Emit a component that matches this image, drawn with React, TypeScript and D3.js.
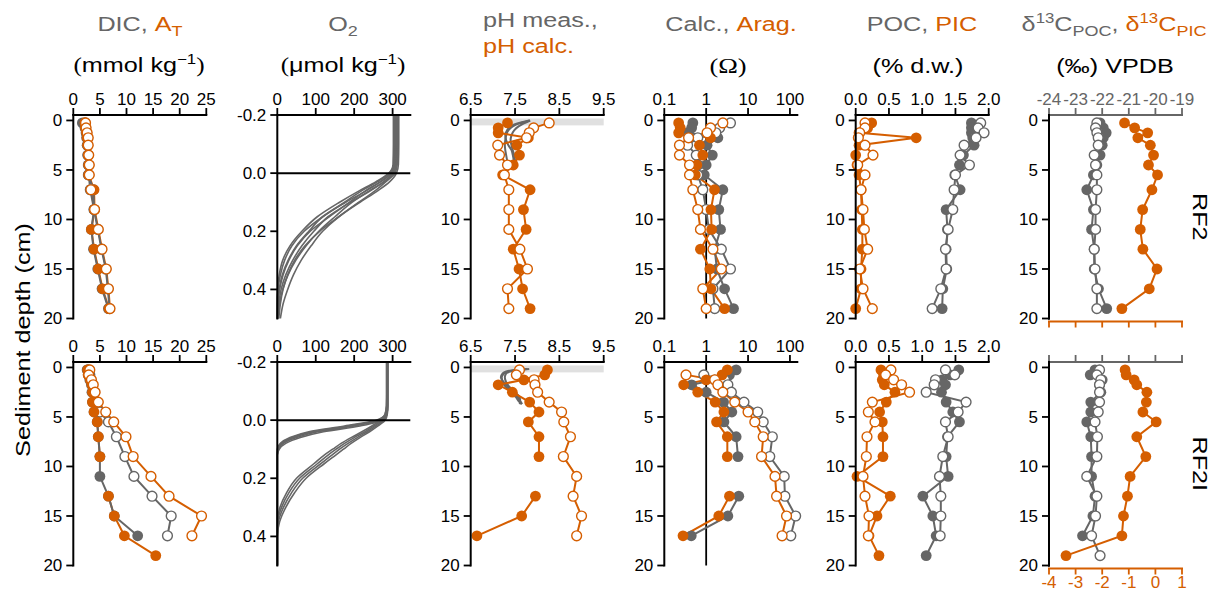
import React from 'react';
import * as d3 from 'd3';

// slice mid-depths (cm) shared by all discrete profiles
const depths = [0.25, 0.75, 1.25, 1.75, 2.5, 3.5, 4.5, 5.5, 7, 9, 11, 13, 15, 17, 19];

// ---------------- RF2 ----------------
const rf2DicFilled = [1.7, 2.2, 2.4, 2.5, 2.6, 2.7, 2.8, 2.8, 3.8, 3.9, 3.4, 3.8, 4.6, 5.4, 6.6];
const rf2DicOpen = [2.2, 2.3, 2.5, 2.7, 2.7, 2.8, 2.9, 2.9, 3.2, 3.9, 4.6, 5.3, 6.1, 6.5, 6.8];
const rf2AtFilled = [2.2, 2.3, 2.5, 2.6, 2.7, 2.8, 2.9, 2.9, 3.9, 4.0, 3.4, 3.9, 4.7, 5.5, 6.7];
const rf2AtOpen = [2.3, 2.4, 2.6, 2.8, 2.8, 2.9, 3.0, 3.0, 3.3, 4.0, 4.7, 5.4, 6.2, 6.6, 6.9];

const o2DepthRF2 = [-0.2, -0.1, -0.03, 0, 0.03, 0.06, 0.1, 0.15, 0.2, 0.25, 0.3, 0.35, 0.4, 0.45, 0.5];
const rf2O2Profiles = [
  [316, 316, 315, 310, 292, 262, 215, 160, 118, 88, 62, 42, 27, 15, 8],
  [313, 313, 312, 306, 282, 255, 212, 160, 110, 72, 45, 27, 15, 8, 4],
  [311, 311, 310, 303, 278, 240, 195, 150, 108, 75, 48, 28, 14, 6, 2],
  [309, 309, 308, 300, 276, 243, 190, 132, 95, 64, 40, 22, 10, 4, 1],
  [307, 307, 306, 297, 268, 230, 188, 135, 85, 52, 30, 15, 6, 2, 0],
  [306, 306, 304, 295, 268, 232, 178, 118, 82, 50, 28, 13, 5, 1, 0],
  [304, 304, 303, 292, 260, 220, 175, 118, 70, 38, 19, 8, 2, 0, 0],
  [302, 302, 301, 290, 256, 214, 162, 104, 64, 33, 14, 5, 1, 0, 0],
];

const rf2PhCalcFilled = [7.33, 7.12, 7.12, 7.8, 7.54, 7.6, 7.46, 7.22, 7.84, 7.69, 7.75, 7.46, 7.59, 7.67, 7.84];
const rf2PhCalcOpen = [8.27, 7.92, 7.82, 7.76, 7.11, 7.15, 7.33, 7.26, 7.36, 7.36, 7.36, 7.61, 7.78, 7.33, 7.36];
const phDepthRF2 = [0, 0.3, 0.6, 1, 1.5, 2, 2.5, 3, 3.5, 4];
const rf2PhMeasProfiles = [
  [7.84, 7.6, 7.45, 7.35, 7.3, 7.28, 7.27, 7.28, 7.3, 7.32],
  [7.84, 7.7, 7.58, 7.48, 7.42, 7.4, 7.42, 7.45, 7.48, 7.5],
  [7.82, 7.55, 7.4, 7.32, 7.28, 7.3, 7.35, 7.42, 7.45, 7.47],
];

const rf2CalcFilled = [0.48, 0.45, 0.36, 1.9, 1.05, 1.4, 1.0, 0.9, 2.5, 2.0, 2.2, 1.6, 1.8, 2.75, 4.5];
const rf2CalcOpen = [3.8, 2.1, 1.7, 0.63, 0.36, 0.58, 0.63, 0.63, 0.83, 1.0, 1.16, 2.3, 3.8, 1.45, 1.6];
const rf2AragFilled = [0.22, 0.24, 0.22, 1.27, 0.69, 0.83, 0.6, 0.55, 1.58, 1.3, 1.35, 0.73, 1.22, 1.3, 2.75];
const rf2AragOpen = [2.5, 1.27, 1.05, 0.38, 0.23, 0.23, 0.4, 0.4, 0.48, 0.63, 0.73, 1.45, 2.3, 0.83, 1.0];

const rf2PocFilled = [1.74, 1.74, 1.74, 1.76, 1.78, 1.62, 1.56, 1.49, 1.57, 1.36, 1.38, 1.36, 1.37, 1.31, 1.3];
const rf2PocOpen = [1.88, 1.84, 1.93, 1.81, 1.63, 1.57, 1.71, 1.5, 1.48, 1.46, 1.39, 1.35, 1.36, 1.28, 1.15];
const rf2PicFilled = [0.24, 0.18, 0.05, 0.91, 0.05, 0.0, 0.02, 0.05, 0.08, 0.09, 0.1, 0.1, 0.08, 0.08, 0.0];
const rf2PicOpen = [0.14, 0.14, 0.06, 0.04, 0.14, 0.26, 0.03, 0.14, 0.08, 0.11, 0.13, 0.18, 0.06, 0.11, 0.25];

const rf2D13cPocFilled = [-22.08, -21.96, -21.85, -21.96, -22.0, -22.08, -22.2, -22.33, -22.58, -22.33, -22.4, -22.3, -22.3, -22.14, -21.83];
const rf2D13cPocOpen = [-22.2, -22.25, -22.2, -22.15, -22.15, -22.3, -22.25, -22.2, -22.2, -22.25, -22.25, -22.3, -22.27, -22.2, -22.2];
const rf2D13cPicFilled = [-1.16, -0.78, -0.29, -0.66, -0.19, -0.07, -0.26, 0.08, -0.13, -0.48, -0.57, -0.47, 0.06, -0.23, -1.26];

// ---------------- RF2I ----------------
const rf2iDicFilled = [2.6, 2.8, 3.1, 3.4, 3.5, 3.6, 3.9, 4.5, 4.7, 5.0, 5.0, 6.6, 7.7, 12.1, null];
const rf2iDicOpen = [2.8, 3.1, 3.3, 3.6, 4.0, 4.4, 5.0, 6.6, 8.1, 9.7, 11.4, 14.8, 18.4, 17.7, null];
const rf2iAtFilled = [2.7, 2.8, 3.2, 3.5, 3.6, 3.6, 3.9, 4.5, 4.7, 5.0, null, 6.6, 7.7, 9.6, 15.5];
const rf2iAtOpen = [3.1, 2.9, 3.4, 3.75, 4.1, 4.7, 6.1, 7.6, 9.9, 11.25, 14.6, 18.0, 24.1, 22.3, null];

const o2DepthRF2I = [-0.2, -0.1, -0.05, -0.02, 0, 0.02, 0.04, 0.06, 0.08, 0.1, 0.12, 0.15, 0.2, 0.25, 0.3, 0.35, 0.4, 0.45, 0.5];
const rf2iO2Profiles = [
  [287, 287, 287, 285, 275, 215, 120, 60, 22, 5, 0, 0, 0, 0, 0, 0, 0, 0, 0],
  [286, 286, 286, 283, 270, 200, 105, 50, 16, 3, 0, 0, 0, 0, 0, 0, 0, 0, 0],
  [285, 285, 285, 282, 265, 190, 95, 42, 12, 2, 0, 0, 0, 0, 0, 0, 0, 0, 0],
  [284, 284, 284, 280, 262, 185, 90, 38, 10, 1, 0, 0, 0, 0, 0, 0, 0, 0, 0],
  [285, 285, 284, 281, 258, 175, 82, 33, 8, 0, 0, 0, 0, 0, 0, 0, 0, 0, 0],
  [288, 288, 288, 286, 281, 262, 240, 215, 192, 172, 152, 122, 75, 45, 22, 6, 0, 0, 0],
  [287, 287, 287, 285, 277, 257, 234, 208, 184, 162, 142, 113, 66, 37, 16, 3, 0, 0, 0],
  [286, 286, 286, 284, 273, 252, 228, 200, 175, 153, 132, 104, 58, 30, 11, 1, 0, 0, 0],
  [285, 285, 285, 283, 269, 246, 220, 192, 166, 144, 122, 95, 50, 24, 7, 0, 0, 0, 0],
];

const rf2iPhCalcFilled = [8.23, 8.17, 7.7, 7.12, 7.44, 7.83, 8.04, 7.8, 8.04, 8.04, null, 7.96, 7.65, 6.64, null];
const rf2iPhCalcOpen = [7.6, 7.53, 7.93, 7.95, 8.01, 8.27, 8.55, 8.6, 8.75, 8.59, 8.89, 8.81, 9.0, 8.89, null];
const phDepthRF2I = [0.15, 0.25, 0.4, 0.6, 1.0, 1.5, 2.0, 2.5, 3.0, 3.5, 3.7];
const rf2iPhMeasProfiles = [
  [7.82, 7.6, 7.35, 7.25, 7.2, 7.22, 7.3, 7.42, 7.52, 7.6, 7.65],
  [7.78, 7.5, 7.3, 7.22, 7.18, 7.25, 7.35, 7.47, 7.56, 7.63, 7.66],
  [7.75, 7.55, 7.4, 7.3, 7.27, 7.3, 7.38, 7.5, 7.6, 7.62, 7.6],
];

const rf2iCalcFilled = [5.2, 3.6, 1.6, 0.45, 1.0, 2.6, 4.1, 2.65, 5.2, 5.75, null, 6.0, 3.3, 0.44, null];
const rf2iCalcOpen = [null, 0.88, 2.75, 3.3, 4.0, 8.0, 17, 23, 38, 33, 73, 76, 137, 105, null];
const rf2iAragFilled = [3.2, 2.4, 1.0, 0.29, 0.63, 1.64, 2.65, 1.77, 3.2, 3.2, null, 3.6, 2.0, 0.28, null];
const rf2iAragOpen = [null, 0.33, 1.6, 1.9, 2.5, 4.8, 10, 14.5, 23, 21, 44, 48, 83, 65, null];

const rf2iPocFilled = [1.55, 1.42, 1.3, 1.35, 1.29, 1.36, 1.46, 1.56, 1.38, 1.36, 1.39, 1.01, 1.16, 1.21, 1.06];
const rf2iPocOpen = [1.35, 1.49, 1.2, 1.18, 1.06, 1.66, 1.54, 1.35, 1.39, 1.31, 1.26, 1.28, 1.28, 1.27, null];
const rf2iPicFilled = [0.38, 0.42, 0.4, 0.43, 0.59, 0.46, 0.36, 0.4, 0.41, 0.41, 0.02, 0.52, 0.32, 0.2, 0.35];
const rf2iPicOpen = [0.53, 0.45, 0.57, 0.69, 0.81, 0.25, 0.19, 0.29, 0.17, 0.16, 0.11, 0.14, 0.2, 0.19, null];

const rf2iD13cPocFilled = [-22.27, -22.45, -22.0, -22.1, -22.05, -22.43, -22.43, -22.58, -22.43, -22.4, -22.4, -22.27, -22.35, -22.74, null];
const rf2iD13cPocOpen = [-22.1, -22.2, -22.05, -22.1, -22.1, -22.1, -22.15, -22.27, -22.18, -22.2, -22.58, -22.2, -22.25, -22.4, -22.08];
const rf2iD13cPicFilled = [-1.14, -1.1, -0.8, -0.7, -0.32, -0.34, -0.47, 0.03, -0.7, -0.36, -0.95, -1.05, -1.2, -1.26, -3.36];

// axis ticks
const dicTicks = [0, 5, 10, 15, 20, 25];
const o2Ticks = [0, 100, 200, 300];
const phTicks = [6.5, 7.5, 8.5, 9.5];
const omegaTicks = [0.1, 1, 10, 100];
const pocTicks = [0, 0.5, 1, 1.5, 2];
const d13cPocTicks = [-24, -23, -22, -21, -20, -19];
const d13cPicTicks = [-4, -3, -2, -1, 0, 1];
const depthTicks = [0, 5, 10, 15, 20];
const o2DepthTicks = [-0.2, 0, 0.2, 0.4];
const rowNames = ['RF2', 'RF2I'];

const GREY = '#666666';
const ORANGE = '#D55E00';
const SANS = '"Liberation Sans", Arial, Helvetica, sans-serif';
const SERIF = '"Liberation Serif", "Times New Roman", serif';
const STRETCH = 1.2;

const PW = 133;
const colLeft = [73.3, 277.3, 470.7, 664.3, 855.7, 1049];
const rowTop = [115, 362];
const rowBottom = [318.5, 565.5];

type Vals = (number | null)[];
type Series = { vals: Vals; color: string; open: boolean };
type Pt = { d: number; v: number | null };

const toPts = (vals: Vals, ds: number[] = depths): Pt[] => ds.map((d, i) => ({ d, v: vals[i] == null ? null : (vals[i] as number) }));

interface PanelProps {
  row: number;
  col: number;
  x: any;
  y: d3.ScaleLinear<number, number>;
  xTicks: number[];
  xFmt: (v: number) => string;
  yTicks: number[];
  yFmt: (v: number) => string;
  yEnd: number;
  series?: Series[];
  profiles?: { depth: number[]; vals: number[][]; width: number };
  band?: [number, number];
  hLine?: number;
  vLine?: number;
  topColor?: string;
  topLabels?: boolean;
  bottom?: { x: any; ticks: number[]; labels: boolean };
}

const Panel = (p: PanelProps) => {
  const left = colLeft[p.col];
  const top = rowTop[p.row];
  const bot = rowBottom[p.row];
  const right = left + PW;
  const topColor = p.topColor || 'black';
  const series = p.series || [];

  const line = d3.line<Pt>()
    .defined(d => d.v != null)
    .x(d => p.x(d.v as number))
    .y(d => p.y(d.d));

  const profLine = d3.line<[number, number]>()
    .x(d => p.x(d[1]))
    .y(d => p.y(d[0]))
    .curve(d3.curveMonotoneY);

  return (
    <g>
      {p.band && (
        <rect x={left} width={PW} y={p.y(p.band[0])} height={p.y(p.band[1]) - p.y(p.band[0])} fill="#e0e0e0" />
      )}
      {p.profiles && p.profiles.vals.map((vals, i) => (
        <path key={'pr' + i}
          d={profLine(p.profiles!.depth.map((d, j) => [d, vals[j]] as [number, number])) || ''}
          fill="none" stroke={GREY} strokeWidth={p.profiles!.width} />
      ))}
      {p.hLine != null && (
        <line x1={left} x2={right} y1={p.y(p.hLine)} y2={p.y(p.hLine)} stroke="black" strokeWidth={2} />
      )}
      {p.vLine != null && (
        <line x1={p.x(p.vLine)} x2={p.x(p.vLine)} y1={top} y2={p.y(p.yEnd)} stroke="black" strokeWidth={1.8} />
      )}
      {series.slice().reverse().map((s, i) => (
        <path key={'l' + i} d={line(toPts(s.vals)) || ''} fill="none" stroke={s.color} strokeWidth={2} />
      ))}
      {series.map((s, i) => toPts(s.vals).filter(d => d.v != null).map((d, j) => (
        <circle key={'c' + i + '-' + j} cx={p.x(d.v as number)} cy={p.y(d.d)}
          r={s.open ? 4.9 : 5.4}
          fill={s.open ? 'white' : s.color}
          stroke={s.open ? s.color : 'none'} strokeWidth={1.4} />
      )))}

      {/* top axis */}
      <line x1={left} x2={right} y1={top} y2={top} stroke={topColor} strokeWidth={2} strokeLinecap="square" />
      {p.xTicks.map(t => (
        <g key={'xt' + t}>
          <line x1={p.x(t)} x2={p.x(t)} y1={top} y2={top - 7} stroke={topColor} strokeWidth={1.8} />
          {p.topLabels !== false && (
            <text x={p.x(t)} y={top - 10} textAnchor="middle" fontSize={17} fontFamily={SANS}
              fill={p.topColor || 'black'}>{p.xFmt(t)}</text>
          )}
        </g>
      ))}

      {/* left axis */}
      <line x1={left} x2={left} y1={top} y2={p.y(p.yEnd)} stroke="black" strokeWidth={2} strokeLinecap="square" />
      {p.yTicks.map(t => (
        <g key={'yt' + t}>
          <line x1={left} x2={left - 7} y1={p.y(t)} y2={p.y(t)} stroke="black" strokeWidth={1.8} />
          <text x={left - 11} y={p.y(t)} dy="0.35em" textAnchor="end" fontSize={17} fontFamily={SANS}>{p.yFmt(t)}</text>
        </g>
      ))}

      {p.bottom && (
        <g>
          <line x1={left} x2={right} y1={bot + 3} y2={bot + 3} stroke={ORANGE} strokeWidth={2} strokeLinecap="square" />
          {p.bottom.ticks.map(t => (
            <g key={'bt' + t}>
              <line x1={p.bottom!.x(t)} x2={p.bottom!.x(t)} y1={bot + 3} y2={bot + 9} stroke={ORANGE} strokeWidth={1.8} />
              {p.bottom!.labels && (
                <text x={p.bottom!.x(t)} y={bot + 22} textAnchor="middle" fontSize={17} fontFamily={SANS}
                  fill={ORANGE}>{String(t)}</text>
              )}
            </g>
          ))}
        </g>
      )}
    </g>
  );
};

const Title = ({ x, y, anchor, children }: { x: number; y: number; anchor?: string; children: any }) => (
  <g transform={`translate(${x},${y}) scale(${STRETCH},1)`}>
    <text textAnchor={anchor || 'middle'} fontSize={21} fontFamily={SANS}>{children}</text>
  </g>
);

const App = () => {
  const fmtInt = (v: number) => String(v);
  const fmt1 = (v: number) => v.toFixed(1);

  const rows = [0, 1].map(r => {
    const y = d3.scaleLinear().domain([-0.55, 20]).range([rowTop[r], rowBottom[r]]);
    const yO2 = d3.scaleLinear().domain([-0.2, 0.5]).range([rowTop[r], rowBottom[r]]);
    const xs = colLeft.map(l => [l, l + PW]);
    const xDic = d3.scaleLinear().domain([0, 25]).range(xs[0]);
    const xO2 = d3.scaleLinear().domain([0, 346]).range(xs[1]);
    const xPh = d3.scaleLinear().domain([6.5, 9.5]).range(xs[2]);
    const xOm = d3.scaleLog().domain([0.1, 150]).range(xs[3]);
    const xPoc = d3.scaleLinear().domain([0, 2]).range(xs[4]);
    const xD13Poc = d3.scaleLinear().domain([-24, -19]).range(xs[5]);
    const xD13Pic = d3.scaleLinear().domain([-4, 1]).range(xs[5]);
    const R = r === 0;

    const dic: Series[] = [
      { vals: R ? rf2DicFilled : rf2iDicFilled, color: GREY, open: false },
      { vals: R ? rf2DicOpen : rf2iDicOpen, color: GREY, open: true },
      { vals: R ? rf2AtFilled : rf2iAtFilled, color: ORANGE, open: false },
      { vals: R ? rf2AtOpen : rf2iAtOpen, color: ORANGE, open: true },
    ];
    const ph: Series[] = [
      { vals: R ? rf2PhCalcFilled : rf2iPhCalcFilled, color: ORANGE, open: false },
      { vals: R ? rf2PhCalcOpen : rf2iPhCalcOpen, color: ORANGE, open: true },
    ];
    const om: Series[] = [
      { vals: R ? rf2CalcFilled : rf2iCalcFilled, color: GREY, open: false },
      { vals: R ? rf2CalcOpen : rf2iCalcOpen, color: GREY, open: true },
      { vals: R ? rf2AragFilled : rf2iAragFilled, color: ORANGE, open: false },
      { vals: R ? rf2AragOpen : rf2iAragOpen, color: ORANGE, open: true },
    ];
    const poc: Series[] = [
      { vals: R ? rf2PocFilled : rf2iPocFilled, color: GREY, open: false },
      { vals: R ? rf2PocOpen : rf2iPocOpen, color: GREY, open: true },
      { vals: R ? rf2PicFilled : rf2iPicFilled, color: ORANGE, open: false },
      { vals: R ? rf2PicOpen : rf2iPicOpen, color: ORANGE, open: true },
    ];
    const d13Poc: Series[] = [
      { vals: R ? rf2D13cPocFilled : rf2iD13cPocFilled, color: GREY, open: false },
      { vals: R ? rf2D13cPocOpen : rf2iD13cPocOpen, color: GREY, open: true },
    ];
    const d13Pic: Series[] = [
      { vals: R ? rf2D13cPicFilled : rf2iD13cPicFilled, color: ORANGE, open: false },
    ];

    const common = { row: r, y, yTicks: depthTicks, yFmt: fmtInt, yEnd: 20 };
    return (
      <g key={'row' + r}>
        <Panel {...common} col={0} x={xDic} xTicks={dicTicks} xFmt={fmtInt} series={dic} />
        <Panel row={r} col={1} y={yO2} x={xO2} xTicks={o2Ticks} xFmt={fmtInt}
          yTicks={o2DepthTicks} yFmt={fmt1} yEnd={0.5} hLine={0}
          profiles={{ depth: R ? o2DepthRF2 : o2DepthRF2I, vals: R ? rf2O2Profiles : rf2iO2Profiles, width: 1.6 }} />
        <Panel {...common} col={2} x={xPh} xTicks={phTicks} xFmt={fmt1} series={ph} band={[-0.2, 0.5]}
          profiles={{ depth: R ? phDepthRF2 : phDepthRF2I, vals: R ? rf2PhMeasProfiles : rf2iPhMeasProfiles, width: 2 }} />
        <Panel {...common} col={3} x={xOm} xTicks={omegaTicks} xFmt={(v: number) => String(v)} series={om} vLine={1} />
        <Panel {...common} col={4} x={xPoc} xTicks={pocTicks} xFmt={fmt1} series={poc} />
        {/* δ13C: POC on the grey top axis, PIC on the orange bottom axis */}
        <Panel {...common} col={5} x={xD13Poc} xTicks={d13cPocTicks} xFmt={fmtInt} series={d13Poc}
          topColor={GREY} topLabels={R}
          bottom={{ x: xD13Pic, ticks: d13cPicTicks, labels: !R }} />
        <Panel {...common} col={5} x={xD13Pic} xTicks={[]} xFmt={fmtInt} yTicks={[]} series={d13Pic} topColor="none" />
        <g transform={`translate(1193,${(rowTop[r] + rowBottom[r]) / 2}) rotate(90) scale(${STRETCH},1)`}>
          <text textAnchor="middle" fontSize={21} fontFamily={SANS}>{rowNames[r]}</text>
        </g>
      </g>
    );
  });

  const sub = (t: string, c: string) => [
    <tspan key={t + 'a'} fill={c} fontSize={15} dy={5}>{t}</tspan>,
  ];

  return (
    <svg width={1220} height={594} style={{ position: 'absolute', left: 0, top: 0, background: 'white' }}>
      <rect width={1220} height={594} fill="white" />
      {rows}

      {/* column titles */}
      <Title x={140} y={31}>
        <tspan fill={GREY}>{'DIC, '}</tspan>
        <tspan fill={ORANGE}>A</tspan>
        {sub('T', ORANGE)}
      </Title>
      <Title x={139} y={72}>
        <tspan fontFamily={SERIF}>(</tspan>
        <tspan>mmol kg</tspan>
        <tspan fontSize={14} dy={-8}>−1</tspan>
        <tspan fontFamily={SERIF} dy={8}>)</tspan>
      </Title>

      <Title x={343} y={31}>
        <tspan fill={GREY}>O</tspan>
        {sub('2', GREY)}
      </Title>
      <Title x={343} y={72}>
        <tspan fontFamily={SERIF}>(</tspan>
        <tspan>μmol kg</tspan>
        <tspan fontSize={14} dy={-8}>−1</tspan>
        <tspan fontFamily={SERIF} dy={8}>)</tspan>
      </Title>

      <Title x={483} y={27} anchor="start">
        <tspan fill={GREY}>pH meas.,</tspan>
      </Title>
      <Title x={483} y={53} anchor="start">
        <tspan fill={ORANGE}>pH calc.</tspan>
      </Title>

      <Title x={731} y={31}>
        <tspan fill={GREY}>{'Calc., '}</tspan>
        <tspan fill={ORANGE}>Arag.</tspan>
      </Title>
      <Title x={728} y={73}>
        <tspan fontFamily={SERIF} fontSize={22}>(Ω)</tspan>
      </Title>

      <Title x={922} y={31}>
        <tspan fill={GREY}>{'POC, '}</tspan>
        <tspan fill={ORANGE}>PIC</tspan>
      </Title>
      <Title x={918} y={73}>
        <tspan>(% d.w.)</tspan>
      </Title>

      <Title x={1114} y={31}>
        <tspan fill={GREY}>δ</tspan>
        <tspan fill={GREY} fontSize={14} dy={-8}>13</tspan>
        <tspan fill={GREY} dy={8}>C</tspan>
        <tspan fill={GREY} fontSize={15} dy={5}>POC</tspan>
        <tspan fill={GREY} dy={-5}>{', '}</tspan>
        <tspan fill={ORANGE}>δ</tspan>
        <tspan fill={ORANGE} fontSize={14} dy={-8}>13</tspan>
        <tspan fill={ORANGE} dy={8}>C</tspan>
        <tspan fill={ORANGE} fontSize={15} dy={5}>PIC</tspan>
      </Title>
      <Title x={1115} y={73}>
        <tspan>(‰) VPDB</tspan>
      </Title>

      <g transform={`translate(30,340) rotate(-90) scale(${STRETCH},1)`}>
        <text textAnchor="middle" fontSize={21} fontFamily={SANS}>Sediment depth (cm)</text>
      </g>
    </svg>
  );
};

export default App;
